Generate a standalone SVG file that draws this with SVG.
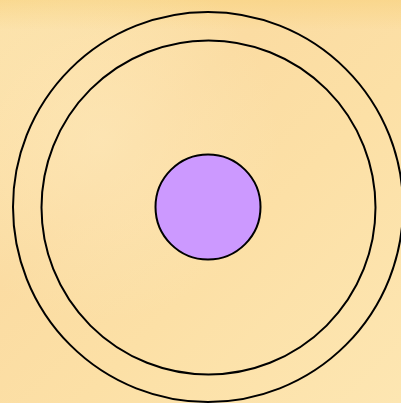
<svg xmlns="http://www.w3.org/2000/svg" width="401" height="403" viewBox="0 0 401 403">
  <defs>
    <linearGradient id="bg" x1="0" y1="0" x2="1" y2="1">
      <stop offset="0" stop-color="#FCE2AA"/>
      <stop offset="0.35" stop-color="#FBDCA2"/>
      <stop offset="0.6" stop-color="#FCE0A6"/>
      <stop offset="1" stop-color="#FDE6B2"/>
    </linearGradient>
    <linearGradient id="topband" x1="0" y1="0" x2="0" y2="1">
      <stop offset="0" stop-color="#F8D27E" stop-opacity="0.6"/>
      <stop offset="1" stop-color="#F8D27E" stop-opacity="0"/>
    </linearGradient>
    <radialGradient id="glow" cx="0.25" cy="0.35" r="0.45">
      <stop offset="0" stop-color="#FFEFC8" stop-opacity="0.4"/>
      <stop offset="1" stop-color="#FFEFC8" stop-opacity="0"/>
    </radialGradient>
    <style>
      .ring { fill: none; stroke: #000; stroke-width: 2; }
      .core { fill: #CC99FF; stroke: #000; stroke-width: 2; }
    </style>
  </defs>
  <rect x="0" y="0" width="401" height="403" fill="url(#bg)"/>
  <rect x="0" y="0" width="401" height="30" fill="url(#topband)"/>
  <rect x="0" y="0" width="401" height="403" fill="url(#glow)"/>
  <g id="outer-ring"><circle class="ring" cx="208" cy="207" r="195"/></g>
  <g id="inner-ring"><circle class="ring" cx="208.5" cy="207.5" r="167"/></g>
  <g id="nucleus"><circle class="core" cx="208" cy="207" r="52.5"/></g>
  <g id="connectors"></g>
</svg>
